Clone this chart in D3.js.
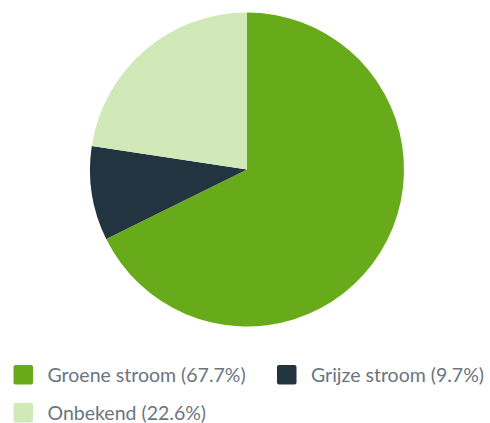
<!DOCTYPE html>
<html>
<head>
<meta charset="utf-8">
<script src="https://cdn.jsdelivr.net/npm/d3@7"></script>
<style>
  html, body { margin: 0; padding: 0; background: #fff; }
  svg { display: block; }
  .legend text { font-family: Lato, "Noto Sans", sans-serif; font-size: 19.5px; fill: #6b7580; }
</style>
</head>
<body>
<svg id="chart" width="490" height="423"></svg>
<script>
// Energy mix shares (percent)
const categories = ["Groene stroom", "Grijze stroom", "Onbekend"];
const shares = [67.7, 9.7, 22.6];
const colors = ["#67ab1a", "#233441", "#d1e8b8"];

const svg = d3.select("#chart");
const cx = 247, cy = 169.5, radius = 157;

const data = categories.map((c, i) => ({ name: c, value: shares[i], color: colors[i] }));

const pie = d3.pie().sort(null).value(d => d.value);
const arc = d3.arc().innerRadius(0).outerRadius(radius);

svg.append("g")
  .attr("transform", `translate(${cx},${cy})`)
  .selectAll("path")
  .data(pie(data))
  .join("path")
  .attr("d", arc)
  .attr("fill", d => d.data.color);

// Legend: two items on the first row, one on the second
const legendPos = [[13.5, 365], [277, 365], [13.5, 403]];
const legend = svg.append("g").attr("class", "legend");
const items = legend.selectAll("g")
  .data(data)
  .join("g")
  .attr("transform", (d, i) => `translate(${legendPos[i][0]},${legendPos[i][1]})`);

items.append("rect")
  .attr("width", 19.5)
  .attr("height", 19.5)
  .attr("rx", 2)
  .attr("fill", d => d.color);

items.append("text")
  .attr("x", 34)
  .attr("y", 17)
  .text(d => `${d.name} (${d.value}%)`);
</script>
</body>
</html>
